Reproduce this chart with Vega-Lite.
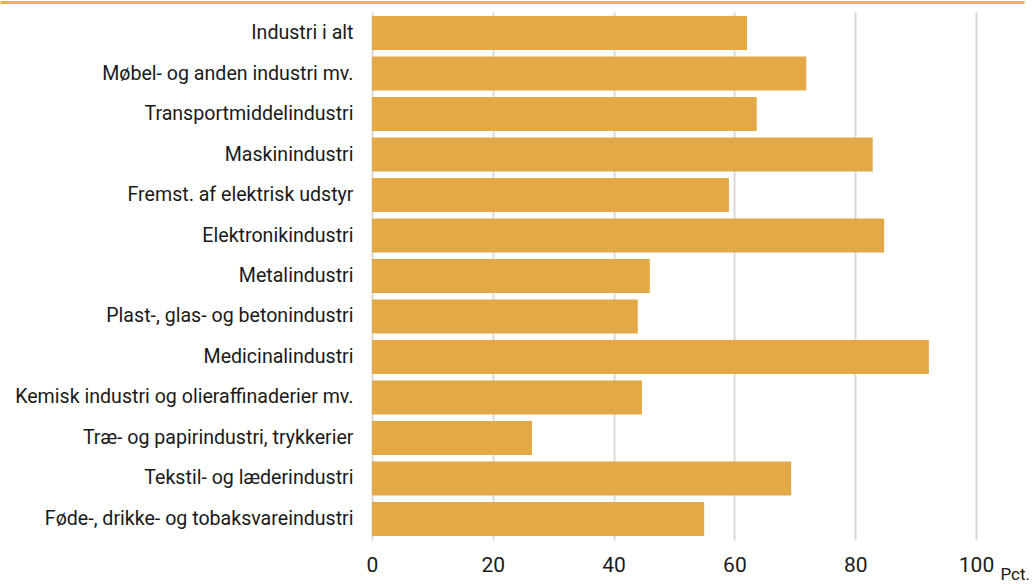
{
  "$schema": "https://vega.github.io/schema/vega-lite/v6.json",
  "width": 1024,
  "height": 528,
  "autosize": {"type": "none"},
  "padding": {"left": 0, "top": 12, "right": 10, "bottom": 44},
  "data": {
    "values": [
      {"branche": "Industri i alt", "pct": 62.1},
      {"branche": "Møbel- og anden industri mv.", "pct": 71.9},
      {"branche": "Transportmiddelindustri", "pct": 63.7},
      {"branche": "Maskinindustri", "pct": 82.9},
      {"branche": "Fremst. af elektrisk udstyr", "pct": 59.1},
      {"branche": "Elektronikindustri", "pct": 84.8},
      {"branche": "Metalindustri", "pct": 46.0},
      {"branche": "Plast-, glas- og betonindustri", "pct": 44.0},
      {"branche": "Medicinalindustri", "pct": 92.2},
      {"branche": "Kemisk industri og olieraffinaderier mv.", "pct": 44.7},
      {"branche": "Træ- og papirindustri, trykkerier", "pct": 26.5},
      {"branche": "Tekstil- og læderindustri", "pct": 69.4},
      {"branche": "Føde-, drikke- og tobaksvareindustri", "pct": 55.0}
    ]
  },
  "config": {
    "view": {"stroke": null},
    "axis": {"labelFont": "Roboto", "labelColor": "#1a1a1a", "titleFont": "Roboto", "titleColor": "#1a1a1a", "titleFontWeight": "normal"}
  },
  "resolve": {"axis": {"x": "independent"}},
  "layer": [
    {
      "mark": {"type": "bar", "color": "#E3A946"},
      "encoding": {
        "y": {
          "field": "branche",
          "type": "nominal",
          "sort": null,
          "scale": {"paddingInner": 0.16, "paddingOuter": 0.1},
          "axis": {"title": null, "offset": -372, "domain": false, "ticks": false, "tickSize": 0, "labelPadding": 19, "labelFontSize": 19.6, "labelLimit": 400, "grid": false}
        },
        "x": {
          "field": "pct",
          "type": "quantitative",
          "scale": {"domain": [-61.59, 107.95], "nice": false, "zero": false},
          "axis": {"orient": "bottom", "values": [0, 20, 40, 60, 80, 100], "domain": false, "ticks": false, "tickSize": 0, "grid": true, "gridColor": "#d9d9d9", "gridWidth": 2, "labelFontSize": 21, "labelPadding": 14, "labelFlush": false, "title": "Pct.", "titleFontSize": 17, "titleX": 1000, "titleY": 26, "titleAlign": "left", "titleBaseline": "top", "titleAnchor": null}
        }
      }
    },
    {
      "mark": {"type": "rule", "opacity": 0},
      "encoding": {
        "x": {
          "datum": 0,
          "type": "quantitative",
          "axis": {"orient": "top", "offset": 10, "domain": true, "domainColor": "#E5B54A", "domainWidth": 3, "ticks": false, "labels": false, "grid": false, "title": null}
        }
      }
    }
  ]
}
